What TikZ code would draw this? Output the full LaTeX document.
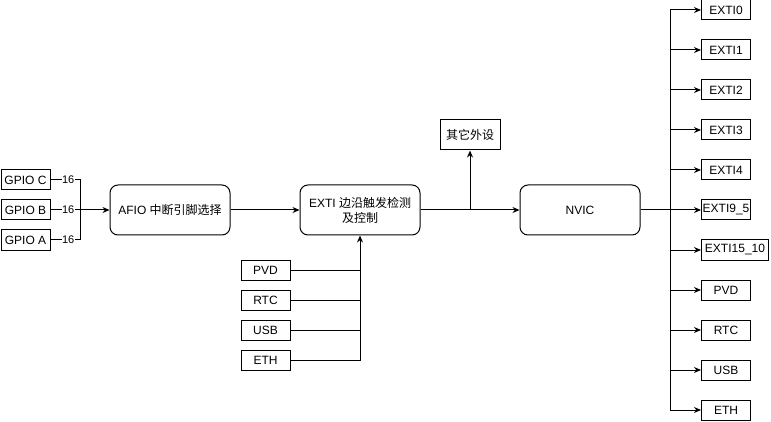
\documentclass[tikz,border=0pt]{standalone}
\usepackage{fontspec}
\setmainfont{Liberation Sans}
\newfontfamily\cjk{Noto Sans CJK SC}
\usetikzlibrary{arrows.meta}

\begin{document}
\begin{tikzpicture}[x=1pt,y=-1pt,line width=1pt,>={Stealth[length=7pt,width=6pt]},
	box/.style={draw,rectangle,minimum width=49pt,minimum height=20pt,inner sep=0pt,font=\fontsize{12}{14}\selectfont},
	rbox/.style={box,anchor=west},
	block/.style={draw,rectangle,rounded corners=8pt,minimum width=120pt,minimum height=50pt,align=center,font=\fontsize{12}{15}\selectfont},
	lbl/.style={fill=white,inner sep=0.5pt,font=\fontsize{11}{12}\selectfont}]
		\useasboundingbox (0,0) rectangle (771,422);
		
		% GPIO ports
		\node[box] (gpioC) at (25.5,180) {GPIO C};
		\node[box] (gpioB) at (25.5,210) {GPIO B};
		\node[box] (gpioA) at (25.5,240) {GPIO A};
		\coordinate (gbus) at (80,210);
		
		% Main blocks
		\node[block] (afio) at (170,210) {AFIO {\cjk 中断引脚选择}};
		\node[block] (exti) at (360,210) {EXTI {\cjk 边沿触发检测}\\{\cjk 及控制}};
		\node[box,minimum width=60pt,minimum height=30pt] (other) at (470,135) {\cjk 其它外设};
		\node[block] (nvic) at (580,210) {NVIC};
		\coordinate (split) at (470,210);
		
		% Other event sources
		\node[box] (pvd) at (265.5,270) {PVD};
		\node[box] (rtc) at (265.5,300) {RTC};
		\node[box] (usb) at (265.5,330) {USB};
		\node[box] (eth) at (265.5,360) {ETH};
		
		% NVIC outputs
		\coordinate (rbus) at (670,210);
		\node[rbox] (exti0) at (701,10) {EXTI0};
		\node[rbox] (exti1) at (701,50) {EXTI1};
		\node[rbox] (exti2) at (701,90) {EXTI2};
		\node[rbox] (exti3) at (701,130) {EXTI3};
		\node[rbox] (exti4) at (701,170) {EXTI4};
		\node[rbox] (exti95) at (701,210) {EXTI9\_5};
		\node[rbox,minimum width=67pt] (exti1510) at (701,250) {EXTI15\_10};
		\node[rbox] (opvd) at (701,290) {PVD};
		\node[rbox] (ortc) at (701,330) {RTC};
		\node[rbox] (ousb) at (701,370) {USB};
		\node[rbox] (oeth) at (701,410) {ETH};
		
		% Draw GPIO lines
		\draw (gpioC) -- node[lbl,pos=0.6]{16} (gpioC -| gbus) -- (gpioA -| gbus);
		\draw (gpioB) -- node[lbl,pos=0.6]{16} (gbus);
		\draw (gpioA) -- node[lbl,pos=0.6]{16} (gpioA -| gbus);
		\draw[->] (gbus) -- (afio);
		
		% Draw block connections
		\draw[->] (afio) -- (exti);
		\draw[->] (exti) -- (nvic);
		\draw[->] (split) -- (other);
		
		% Draw source lines
		\draw[->] (eth) -| (exti.south);
		\draw (pvd) -- (pvd -| exti.south);
		\draw (rtc) -- (rtc -| exti.south);
		\draw (usb) -- (usb -| exti.south);
		
		% Draw output lines
		\draw (nvic) -- (rbus);
		\draw[->] (rbus) |- (exti0);
		\draw[->] (rbus) |- (oeth);
		\draw[->] (exti1.west -| rbus) -- (exti1);
		\draw[->] (exti2.west -| rbus) -- (exti2);
		\draw[->] (exti3.west -| rbus) -- (exti3);
		\draw[->] (exti4.west -| rbus) -- (exti4);
		\draw[->] (rbus) -- (exti95);
		\draw[->] (exti1510.west -| rbus) -- (exti1510);
		\draw[->] (opvd.west -| rbus) -- (opvd);
		\draw[->] (ortc.west -| rbus) -- (ortc);
		\draw[->] (ousb.west -| rbus) -- (ousb);
		
\end{tikzpicture}
\end{document}
